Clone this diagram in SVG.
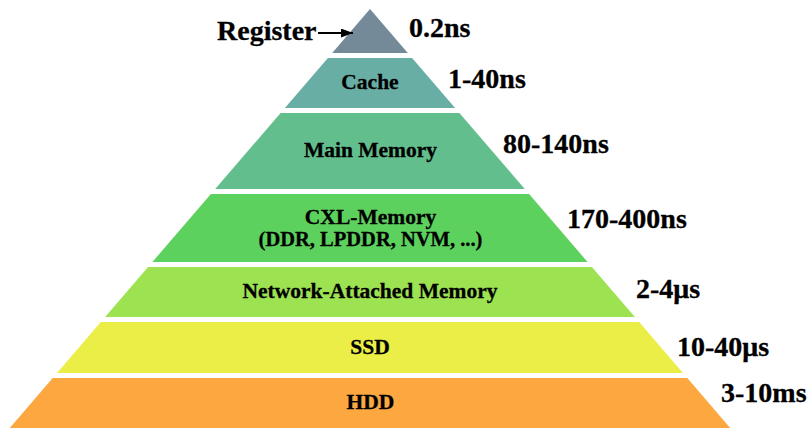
<svg xmlns="http://www.w3.org/2000/svg" width="810" height="428" viewBox="0 0 810 428">
  <style>
    text { font-family: 'Liberation Serif', 'Times New Roman', Times, serif; font-weight: bold; fill: #000; stroke: #000; stroke-width: 0.3px; }
    .in { font-size: 21.5px; text-anchor: middle; }
    .sub { font-size: 20.5px; text-anchor: middle; }
    .lat { font-size: 28px; }
  </style>
  <defs>
    <marker id="ah" viewBox="0 0 12 9" refX="12" refY="4.5" markerWidth="12" markerHeight="9" markerUnits="userSpaceOnUse" orient="auto">
      <path d="M0,0 L12,4.5 L0,9 z" fill="#000"/>
    </marker>
  </defs>
  <rect width="810" height="428" fill="#fff"/>

  <g id="register">
    <polygon points="370,9 407.8,53 332.2,53" fill="#748A98"/>
    <text class="lat" x="217" y="40">Register</text>
    <text class="lat" x="409" y="37">0.2ns</text>
  </g>
  <g id="cache">
    <polygon points="327.9,58 412.1,58 455.1,108 284.9,108" fill="#68AEA4"/>
    <text class="in" x="370" y="89">Cache</text>
    <text class="lat" x="448" y="88">1-40ns</text>
  </g>
  <g id="main-memory">
    <polygon points="280.6,113 459.4,113 524.8,189 215.2,189" fill="#62BF8D"/>
    <text class="in" x="370.5" y="157">Main Memory</text>
    <text class="lat" x="503" y="153">80-140ns</text>
  </g>
  <g id="cxl-memory">
    <polygon points="210.9,194 529.1,194 587.6,262 152.4,262" fill="#5DD15D"/>
    <text class="in" x="370.5" y="224">CXL-Memory</text>
    <text class="sub" x="370.5" y="246">(DDR, LPDDR, NVM, ...)</text>
    <text class="lat" x="567" y="228">170-400ns</text>
  </g>
  <g id="network-attached-memory">
    <polygon points="148.1,267 591.9,267 634.9,317 105.1,317" fill="#9DE250"/>
    <text class="in" x="370" y="298">Network-Attached Memory</text>
    <text class="lat" x="636" y="298">2-4μs</text>
  </g>
  <g id="ssd">
    <polygon points="100.8,322 639.2,322 683,373 57,373" fill="#EAEE46"/>
    <text class="in" x="370" y="354">SSD</text>
    <text class="lat" x="677" y="356">10-40μs</text>
  </g>
  <g id="hdd">
    <polygon points="52.7,378 687.3,378 731.5,429.5 8.5,429.5" fill="#FDA740"/>
    <text class="in" x="370.5" y="409">HDD</text>
    <text class="lat" x="721" y="402">3-10ms</text>
  </g>

  <g id="connectors">
    <line x1="318" y1="33" x2="353" y2="33" stroke="#000" stroke-width="2.2" marker-end="url(#ah)"/>
  </g>
</svg>
